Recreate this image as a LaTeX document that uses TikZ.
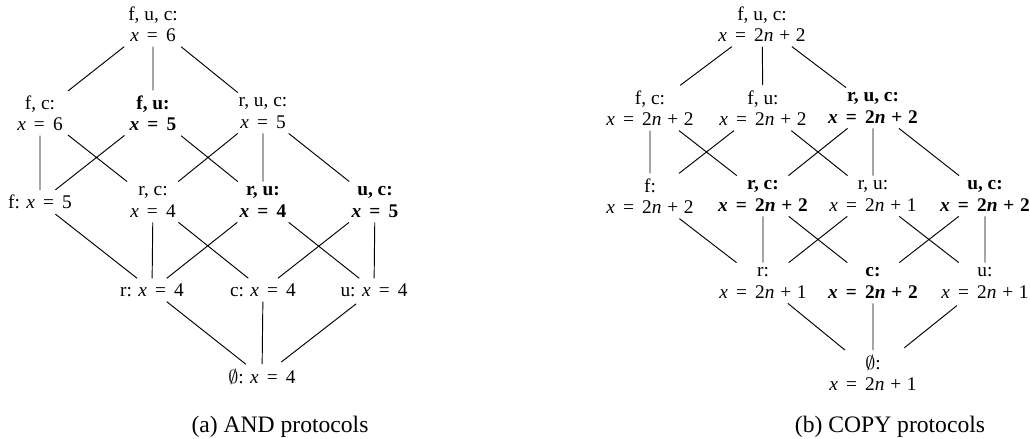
\documentclass[tikz,border=0pt]{standalone}
\usepackage{fontspec}
\setmainfont{Liberation Serif}
\newcommand{\xv}{\textit{x}\hspace{0.42em}=\hspace{0.42em}}
\newcommand{\nv}{\textit{n}\hspace{0.3em}+\hspace{0.3em}}

\begin{document}
\begin{tikzpicture}[x=0.4237pt,y=-0.4237pt,
  lat/.style={align=center,inner sep=2pt,font=\fontsize{8.2}{9}\selectfont},
  latb/.style={lat,font=\fontsize{8.2}{9}\selectfont\bfseries},
  hasse/.style={thin,shorten <=1.5pt,shorten >=1.5pt}]
\useasboundingbox (0,0) rectangle (1030,439);
% (a) AND protocols
\node[lat] (a-fuc) at (153,24) {f, u, c:\\\xv6};
\node[lat] (a-fc) at (40,113) {f, c:\\\xv6};
\node[latb] (a-fu) at (153,113) {f, u:\\\xv5};
\node[lat] (a-ruc) at (263,113) {r, u, c:\\\xv5};
\node[lat] (a-f) at (40,202) {f: \xv5};
\node[lat] (a-rc) at (153,202) {r, c:\\\xv4};
\node[latb] (a-ru) at (263,202) {r, u:\\\xv4};
\node[latb] (a-uc) at (375,202) {u, c:\\\xv5};
\node[lat] (a-r) at (152,290) {r: \xv4};
\node[lat] (a-c) at (263,290) {c: \xv4};
\node[lat] (a-u) at (374,290) {u: \xv4};
\node[lat] (a-e) at (262,377) {$\emptyset$: \xv4};
\node[font=\fontsize{10}{12}\selectfont] (a-cap) at (280,427) {(a) AND protocols};
\draw[hasse] (a-fuc) -- (a-fc) (a-fuc) -- (a-fu) (a-fuc) -- (a-ruc)
  (a-fc) -- (a-f) (a-fc) -- (a-rc) (a-fu) -- (a-f) (a-fu) -- (a-ru)
  (a-ruc) -- (a-rc) (a-ruc) -- (a-ru) (a-ruc) -- (a-uc)
  (a-f) -- (a-r) (a-rc) -- (a-r) (a-rc) -- (a-c) (a-ru) -- (a-r) (a-ru) -- (a-u)
  (a-uc) -- (a-c) (a-uc) -- (a-u)
  (a-r) -- (a-e) (a-c) -- (a-e) (a-u) -- (a-e);
% (b) COPY protocols
\node[lat] (b-fuc) at (762,24) {f, u, c:\\\xv2\nv2};
\node[lat] (b-fc) at (650,108) {f, c:\\\xv2\nv2};
\node[lat] (b-fu) at (763,108) {f, u:\\\xv2\nv2};
\node[latb] (b-ruc) at (873,108) {r, u, c:\\\xv2\nv2};
\node[lat] (b-f) at (650,196) {f:\\\xv2\nv2};
\node[latb] (b-rc) at (763,196) {r, c:\\\xv2\nv2};
\node[lat] (b-ru) at (873,196) {r, u:\\\xv2\nv1};
\node[latb] (b-uc) at (985,196) {u, c:\\\xv2\nv2};
\node[lat] (b-r) at (763,283) {r:\\\xv2\nv1};
\node[latb] (b-c) at (873,283) {c:\\\xv2\nv2};
\node[lat] (b-u) at (985,283) {u:\\\xv2\nv1};
\node[lat] (b-e) at (873,373) {$\emptyset$:\\\xv2\nv1};
\node[font=\fontsize{10}{12}\selectfont] (b-cap) at (890,427) {(b) COPY protocols};
\draw[hasse] (b-fuc) -- (b-fc) (b-fuc) -- (b-fu) (b-fuc) -- (b-ruc)
  (b-fc) -- (b-f) (b-fc) -- (b-rc) (b-fu) -- (b-f) (b-fu) -- (b-ru)
  (b-ruc) -- (b-rc) (b-ruc) -- (b-ru) (b-ruc) -- (b-uc)
  (b-f) -- (b-r) (b-rc) -- (b-r) (b-rc) -- (b-c) (b-ru) -- (b-r) (b-ru) -- (b-u)
  (b-uc) -- (b-c) (b-uc) -- (b-u)
  (b-r) -- (b-e) (b-c) -- (b-e) (b-u) -- (b-e);
\end{tikzpicture}
\end{document}
